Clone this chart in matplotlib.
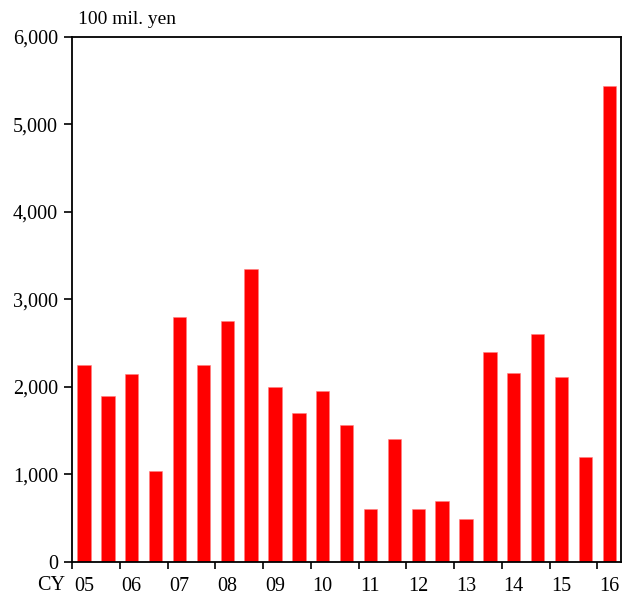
import matplotlib
matplotlib.use("Agg")
from matplotlib import pyplot as plt
from matplotlib.ticker import FuncFormatter

# half-year values, CY2005 H1 .. CY2016 H1 (100 mil. yen)
years = ["05", "06", "07", "08", "09", "10", "11", "12", "13", "14", "15", "16"]
values = [2250, 1900, 2150, 1040, 2800, 2250, 2750, 3350,
          2000, 1700, 1950, 1570, 600, 1400, 600, 700,
          490, 2400, 2160, 2600, 2110, 1200, 5440]

plt.rcParams['font.family'] = ['Liberation Serif', 'DejaVu Serif']

fig = plt.figure(figsize=(6.23, 5.95), dpi=100)
ax = fig.add_axes([0.1156, 0.0555, 0.8814, 0.8825])

x = list(range(len(values)))
ax.bar(x, values, width=0.56, color="#ff0000", edgecolor="#ff8080", linewidth=0.4)

ax.set_xlim(-0.5, len(values) - 0.5)
ax.set_ylim(0, 6000)
ax.set_yticks(range(0, 6001, 1000))
ax.yaxis.set_major_formatter(FuncFormatter(lambda v, p: f"{int(v):,}"))

# ticks at year boundaries, labels under first half of each year
ax.set_xticks([i * 2 - 0.5 for i in range(len(years))])
ax.set_xticklabels([])
ax.set_xticks([i * 2 for i in range(len(years))], minor=True)
ax.set_xticklabels(years, minor=True)
ax.tick_params(axis="x", which="minor", length=0, pad=11, labelsize=14.5)
ax.tick_params(axis="x", which="major", length=5, width=1.2, direction="out")
ax.tick_params(axis="y", length=6, width=1.2, direction="out", labelsize=14.5, pad=4)

for s in ax.spines.values():
    s.set_linewidth(1.3)

fig.text(0.082, 1 - 585 / 595, "CY", fontsize=14.5, ha="center", va="center")
fig.text(0.125, 1 - 20 / 595, "100 mil. yen", fontsize=14, ha="left", va="center")

plt.savefig("out.png", dpi=100)
